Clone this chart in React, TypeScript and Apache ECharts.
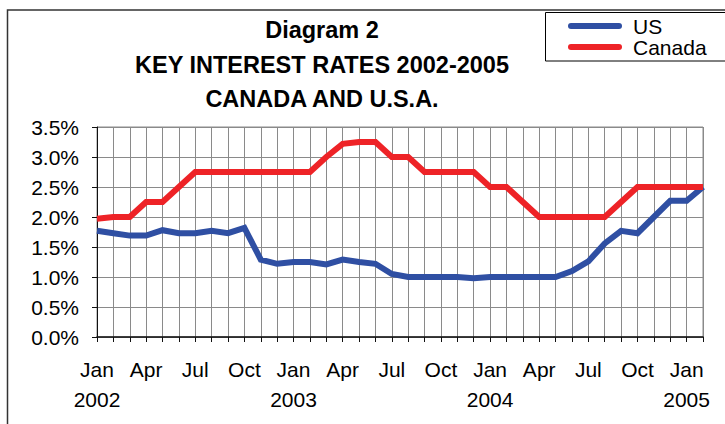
import React, { useEffect, useRef } from "react";
import * as echarts from "echarts";

const MONTHS = ["Jan", "Feb", "Mar", "Apr", "May", "Jun", "Jul", "Aug", "Sep", "Oct", "Nov", "Dec"];
const START_YEAR = 2002;
const N_POINTS = 38; // Jan 2002 .. Feb 2005

const US = [
  1.77, 1.73, 1.69, 1.69, 1.78, 1.73, 1.73, 1.77, 1.73, 1.82,
  1.29, 1.22, 1.25, 1.25, 1.21, 1.29, 1.25, 1.22, 1.05, 1.0,
  1.0, 1.0, 1.0, 0.98, 1.0, 1.0, 1.0, 1.0, 1.0, 1.1,
  1.26, 1.56, 1.77, 1.73, 2.0, 2.27, 2.27, 2.5,
];
const CANADA = [
  1.97, 2.0, 2.0, 2.25, 2.25, 2.5, 2.75, 2.75, 2.75, 2.75,
  2.75, 2.75, 2.75, 2.75, 3.0, 3.22, 3.25, 3.25, 3.0, 3.0,
  2.75, 2.75, 2.75, 2.75, 2.5, 2.5, 2.25, 2.0, 2.0, 2.0,
  2.0, 2.0, 2.25, 2.5, 2.5, 2.5, 2.5, 2.5,
];
const TITLE_LINES = ["Diagram 2", "KEY INTEREST RATES 2002-2005", "CANADA AND U.S.A."];
const Y_MIN = 0;
const Y_MAX = 3.5;
const Y_STEP = 0.5;

const CATEGORIES: string[] = [];
for (let i = 0; i < N_POINTS; i++) {
  CATEGORIES.push(MONTHS[i % 12] + " " + (START_YEAR + Math.floor(i / 12)));
}

const FONT = "'Liberation Sans', Arial, Helvetica, sans-serif";
const BLUE = "#2f4fa3";
const RED = "#ee2327";

export default function App() {
  const ref = useRef<HTMLDivElement>(null);
  useEffect(() => {
    if (!ref.current) return;
    const chart = echarts.init(ref.current, null, { renderer: "svg" });
    const pill = "path://M3,0 L51,0 A3,3 0 0 1 51,6 L3,6 A3,3 0 0 1 3,0 Z";
    chart.setOption({
      animation: false,
      backgroundColor: "#fff",
      textStyle: { fontFamily: FONT },
      graphic: [
        {
          type: "rect",
          z: 0,
          silent: true,
          shape: { x: 7.5, y: 10, width: 800, height: 500 },
          style: { fill: "none", stroke: "#333", lineWidth: 1.5 },
        },
        {
          type: "rect",
          z: 0,
          silent: true,
          shape: { x: 545.5, y: 12.5, width: 200, height: 48.5 },
          style: { fill: "#fff", stroke: "#000", lineWidth: 1 },
        },
        ...TITLE_LINES.map((t, i) => ({
          type: "text",
          z: 5,
          x: 322,
          y: 30 + i * 34.5,
          style: {
            text: t,
            fontFamily: FONT,
            fontSize: 23.5,
            fontWeight: "bold",
            fill: "#000",
            align: "center",
            verticalAlign: "middle",
          },
        })),
      ],
      legend: {
        orient: "vertical",
        left: 568,
        top: 15.5,
        itemWidth: 54,
        itemHeight: 6,
        itemGap: 0,
        padding: 0,
        z: 10,
        data: [
          { name: "US", icon: pill },
          { name: "Canada", icon: pill },
        ],
        textStyle: {
          fontFamily: FONT,
          fontSize: 21,
          lineHeight: 21,
          color: "#000",
          padding: [0, 0, 0, 6],
        },
      },
      grid: {
        left: 97,
        right: 22,
        top: 127,
        bottom: 87,
        show: true,
        borderColor: "#8a8a8a",
        borderWidth: 1,
      },
      xAxis: {
        type: "category",
        data: CATEGORIES,
        boundaryGap: false,
        axisLine: { lineStyle: { color: "#111", width: 1.5 } },
        axisTick: { show: true, interval: 0, length: 5, lineStyle: { color: "#111" } },
        splitLine: { show: true, interval: 0, lineStyle: { color: "#8a8a8a", width: 1 } },
        axisLabel: {
          interval: (idx: number) => idx % 3 === 0,
          margin: 17,
          fontFamily: FONT,
          fontSize: 21,
          lineHeight: 30,
          color: "#000",
          formatter: (val: string) => {
            const [m, y] = val.split(" ");
            return m === "Jan" ? m + "\n" + y : m;
          },
        },
      },
      yAxis: {
        type: "value",
        min: Y_MIN,
        max: Y_MAX,
        interval: Y_STEP,
        axisLine: { show: true, lineStyle: { color: "#111", width: 1 } },
        axisTick: { show: true, length: 5, lineStyle: { color: "#111" } },
        splitLine: { show: true, lineStyle: { color: "#8a8a8a", width: 1 } },
        axisLabel: {
          margin: 18,
          fontFamily: FONT,
          fontSize: 21,
          color: "#000",
          formatter: (v: number) => v.toFixed(1) + "%",
        },
      },
      series: [
        {
          name: "US",
          type: "line",
          data: US,
          symbol: "none",
          lineStyle: { color: BLUE, width: 6, join: "miter" },
          itemStyle: { color: BLUE },
          z: 3,
        },
        {
          name: "Canada",
          type: "line",
          data: CANADA,
          symbol: "none",
          lineStyle: { color: RED, width: 6, join: "miter" },
          itemStyle: { color: RED },
          z: 4,
        },
      ],
    });
    return () => chart.dispose();
  }, []);
  return (
    <div
      ref={ref}
      style={{ position: "fixed", left: 0, top: 0, width: 725, height: 424 }}
    />
  );
}
